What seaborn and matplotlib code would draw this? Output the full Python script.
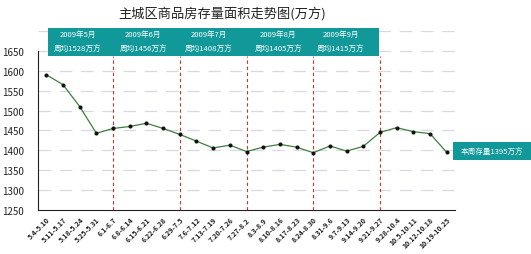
import pandas as pd
import matplotlib.pyplot as plt
import matplotlib.patches as patches
import seaborn as sns

# Weekly stock of commercial housing in the main urban area (10k m2)
weeks = ["5.4-5.10", "5.11-5.17", "5.18-5.24", "5.25-5.31", "6.1-6.7",
         "6.8-6.14", "6.15-6.21", "6.22-6.28", "6.29-7.5", "7.6-7.12",
         "7.13-7.19", "7.20-7.26", "7.27-8.2", "8.3-8.9", "8.10-8.16",
         "8.17-8.23", "8.24-8.30", "8.31-9.6", "9.7-9.13", "9.14-9.20",
         "9.21-9.27", "9.28-10.4", "10.5-10.11", "10.12-10.18", "10.19-10.25"]
stock = [1590, 1565, 1510, 1443, 1455, 1460, 1468, 1455, 1440, 1423,
         1406, 1413, 1397, 1408, 1415, 1408, 1394, 1411, 1398, 1410,
         1445, 1457, 1447, 1442, 1395]

months = ["2009年5月", "2009年6月", "2009年7月", "2009年8月", "2009年9月"]
month_avg = [1528, 1456, 1408, 1405, 1415]
month_breaks = [4, 8, 12, 16, 20]  # week index where a new month starts
month_mid = [1.9, 5.8, 9.75, 13.9, 17.65]

df = pd.DataFrame({"week": weeks, "stock": stock})
df["pos"] = range(len(df))

sns.set_theme(style="white")
plt.rcParams["font.family"] = ["Noto Sans CJK SC", "DejaVu Sans"]

teal = "#11999a"

fig = plt.figure(figsize=(5.31, 2.55), dpi=100)
ax = fig.add_axes([0.0716, 0.1725, 0.7854, 0.7020])

sns.lineplot(data=df, x="pos", y="stock", ax=ax, color="#3f7f3f",
             linewidth=0.9, marker="o", markersize=2.2,
             markerfacecolor="#111111", markeredgecolor="#111111")

ax.set_xlim(-0.5, len(weeks) - 0.5)
ax.set_ylim(1250, 1700)
ax.set_yticks(range(1250, 1651, 50))
ax.set_xticks(range(len(weeks)))
ax.set_xticklabels(weeks, rotation=45, ha="right", rotation_mode="anchor",
                   fontsize=5, fontweight="bold")
ax.tick_params(axis="y", labelsize=7, length=3, direction="in", pad=10,
               colors="#222222")
ax.tick_params(axis="x", length=2, direction="out", pad=2, colors="#222222")
ax.set_xlabel("")
ax.set_ylabel("")

# dashed horizontal grid
for yv in range(1300, 1701, 50):
    ax.axhline(yv, color="#d8d8e4", linewidth=0.9, linestyle=(0, (10, 7)),
               zorder=0)

for side in ["top", "right"]:
    ax.spines[side].set_visible(False)
ax.spines["left"].set_bounds(1250, 1650)
ax.spines["left"].set_color("#222222")
ax.spines["bottom"].set_color("#222222")
ax.spines["left"].set_linewidth(0.8)
ax.spines["bottom"].set_linewidth(0.8)

# month separators
for b in month_breaks:
    ax.plot([b, b], [1250, 1637], color="#c0392b", linewidth=0.8,
            linestyle=(0, (3, 2.5)), zorder=1)

# month banner
ax.add_patch(patches.Rectangle((0.12, 1637), 19.8, 70, facecolor=teal,
                               edgecolor="none", clip_on=False, zorder=3))
for name, avg, xm in zip(months, month_avg, month_mid):
    ax.text(xm, 1692, name, ha="center", va="center", color="white",
            fontsize=5.5, zorder=4, clip_on=False)
    ax.text(xm, 1657, f"周均{avg}万方", ha="center", va="center",
            color="white", fontsize=5.5, zorder=4, clip_on=False)

# callout for latest week
fig.patches.append(patches.Rectangle((453 / 531, 1 - 161 / 255), 78 / 531,
                                     18 / 255, transform=fig.transFigure,
                                     facecolor=teal, edgecolor="none"))
fig.text(492 / 531, 1 - 152 / 255, f"本周存量{stock[-1]}万方", ha="center",
         va="center", color="white", fontsize=5.5)

fig.text(222 / 531, 1 - 14 / 255, "主城区商品房存量面积走势图(万方)",
         ha="center", va="center", fontsize=9.5, color="#222222")

fig.savefig("out.png", dpi=100)
